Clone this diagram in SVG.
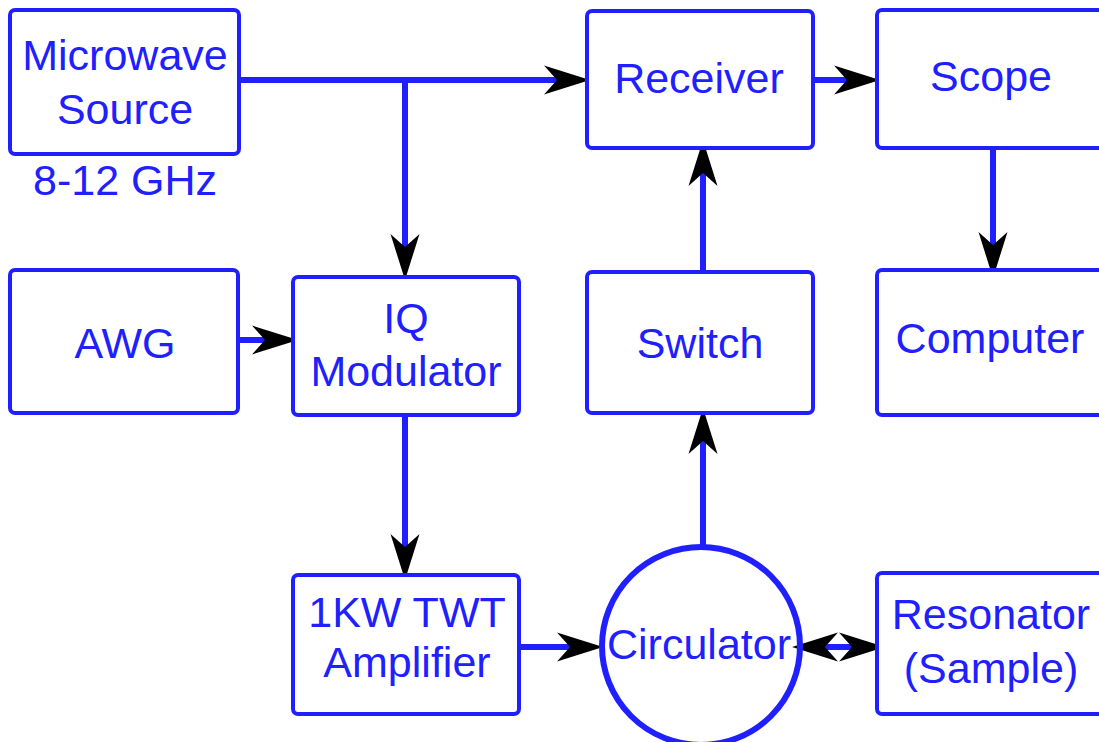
<svg xmlns="http://www.w3.org/2000/svg" width="1099" height="742" viewBox="0 0 1099 742">
<style>
.box{fill:#fff;stroke:#2020ff;stroke-width:4}
.lbl{font-family:"Liberation Sans",Arial,sans-serif;font-size:43px;fill:#2020ff;text-anchor:middle}
.con{fill:none;stroke:#2020ff;stroke-width:6}
</style>
<defs>
<marker id="ah" markerUnits="userSpaceOnUse" viewBox="-46 -16 50 32" markerWidth="50" markerHeight="32" refX="-33" refY="0" orient="auto-start-reverse" overflow="visible">
<path d="M0,0 L-46,-14.5 L-33,0 L-46,14.5 Z" fill="#000"/>
</marker>
</defs>
<rect width="1099" height="742" fill="#fff"/>
<g id="connectors">
<path class="con" d="M239,80 H557" marker-end="url(#ah)"/>
<path class="con" d="M405,80 V247" marker-end="url(#ah)"/>
<path class="con" d="M238,340 H265" marker-end="url(#ah)"/>
<path class="con" d="M814,80 H847" marker-end="url(#ah)"/>
<path class="con" d="M993,148 V245" marker-end="url(#ah)"/>
<path class="con" d="M703,272 V173" marker-end="url(#ah)"/>
<path class="con" d="M703,547 V441" marker-end="url(#ah)"/>
<path class="con" d="M405,415 V547" marker-end="url(#ah)"/>
<path class="con" d="M519,647 H570" marker-end="url(#ah)"/>
<path class="con" d="M825,647 H852" marker-start="url(#ah)" marker-end="url(#ah)"/>
</g>
<g id="microwave-source">
<rect class="box" x="10" y="10" width="229" height="144" rx="5"/>
<text class="lbl" x="125" y="70">Microwave</text>
<text class="lbl" x="125" y="124">Source</text>
<text class="lbl" x="125" y="195">8-12 GHz</text>
</g>
<g id="receiver">
<rect class="box" x="587" y="11" width="226" height="137" rx="5"/>
<text class="lbl" x="699" y="93">Receiver</text>
</g>
<g id="scope">
<rect class="box" x="877" y="10" width="230" height="138" rx="5"/>
<text class="lbl" x="991" y="91">Scope</text>
</g>
<g id="awg">
<rect class="box" x="10" y="270" width="228" height="143" rx="5"/>
<text class="lbl" x="125" y="358">AWG</text>
</g>
<g id="iq-modulator">
<rect class="box" x="293" y="277" width="226" height="138" rx="5"/>
<text class="lbl" x="406" y="333">IQ</text>
<text class="lbl" x="406" y="386">Modulator</text>
</g>
<g id="switch">
<rect class="box" x="587" y="272" width="226" height="141" rx="5"/>
<text class="lbl" x="700" y="358">Switch</text>
</g>
<g id="computer">
<rect class="box" x="877" y="270" width="230" height="145" rx="5"/>
<text class="lbl" x="990" y="353">Computer</text>
</g>
<g id="twt-amplifier">
<rect class="box" x="293" y="575" width="226" height="139" rx="5"/>
<text class="lbl" x="407" y="627">1KW TWT</text>
<text class="lbl" x="407" y="677">Amplifier</text>
</g>
<g id="circulator">
<circle cx="701" cy="646" r="99" fill="none" stroke="#2020ff" stroke-width="6"/>
<text class="lbl" x="699" y="659">Circulator</text>
</g>
<g id="resonator">
<rect class="box" x="877" y="573" width="230" height="141" rx="5"/>
<text class="lbl" x="991" y="629">Resonator</text>
<text class="lbl" x="991" y="683">(Sample)</text>
</g>
</svg>
